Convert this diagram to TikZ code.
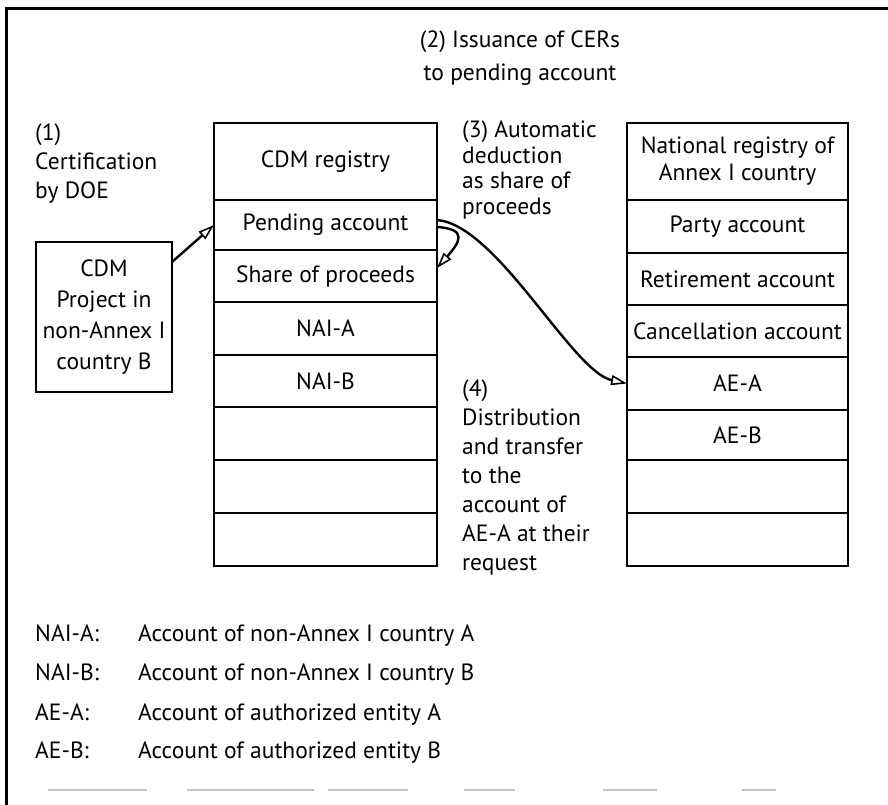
\documentclass[tikz,border=0pt]{standalone}
\usepackage{fontspec}
\setmainfont{PT Sans}
\usetikzlibrary{arrows.meta}
\begin{document}
\begin{tikzpicture}[x=1pt,y=-1pt,
  cell/.style={draw,line width=2.8pt,inner sep=0pt,outer sep=0pt,font=\fontsize{23.5}{28}\selectfont,align=center},
  note/.style={inner sep=0pt,anchor=north west,align=left,font=\fontsize{23.5}{29}\selectfont},
  conn/.style={line width=2.4pt,-{Triangle[open,length=16pt,width=10pt,line width=1.6pt]}},
  legend/.style={inner sep=0pt,anchor=base west,font=\fontsize{23.5}{28}\selectfont}]
\useasboundingbox (0,0) rectangle (888,805);
% frame
\draw[line width=3pt] (6,805) -- (6,9) -- (888,9);
\foreach \a/\b in {48/147,187/314,328/408,464/515,603/657,742/776}
  \draw[gray!45,line width=2pt] (\a,790) -- (\b,790);
% CDM registry column
\node[cell,minimum width=223,minimum height=77] (c0) at (325.5,161.5) {CDM registry};
\node[cell,minimum width=223,minimum height=50] (c1) at (325.5,225) {Pending account};
\node[cell,minimum width=223,minimum height=52] (c2) at (325.5,276) {Share of proceeds};
\node[cell,minimum width=223,minimum height=53] (c3) at (325.5,328.5) {NAI-A};
\node[cell,minimum width=223,minimum height=52] (c4) at (325.5,381) {NAI-B};
\node[cell,minimum width=223,minimum height=53] (c5) at (325.5,433.5) {};
\node[cell,minimum width=223,minimum height=53] (c6) at (325.5,486.5) {};
\node[cell,minimum width=223,minimum height=53] (c7) at (325.5,539.5) {};
% National registry column
\node[cell,minimum width=221,minimum height=77,font=\fontsize{23.5}{27}\selectfont] (n0) at (737.5,161.5) {National registry of\\Annex I country};
\node[cell,minimum width=221,minimum height=53] (n1) at (737.5,226.5) {Party account};
\node[cell,minimum width=221,minimum height=52] (n2) at (737.5,279) {Retirement account};
\node[cell,minimum width=221,minimum height=52] (n3) at (737.5,331) {Cancellation account};
\node[cell,minimum width=221,minimum height=53] (n4) at (737.5,383.5) {AE-A};
\node[cell,minimum width=221,minimum height=50] (n5) at (737.5,435) {AE-B};
\node[cell,minimum width=221,minimum height=53] (n6) at (737.5,486.5) {};
\node[cell,minimum width=221,minimum height=53] (n7) at (737.5,539.5) {};
% project box
\node[cell,line width=2.4pt,minimum width=136,minimum height=150,font=\fontsize{23.5}{31}\selectfont] (proj) at (104,317) {CDM\\Project in\\non-Annex I\\country B};
% notes
\node[note] (t1) at (35,124) {(1)\\Certification\\by DOE};
\node[inner sep=0pt,align=center,font=\fontsize{23.5}{33}\selectfont] (t2) at (520,58) {(2) Issuance of CERs\\to pending account};
\node[note,font=\fontsize{23.5}{25.5}\selectfont] (t3) at (462,121) {(3) Automatic\\deduction\\as share of\\proceeds};
\node[note] (t4) at (462,380) {(4)\\Distribution\\and transfer\\to the\\account of\\AE-A at their\\request};
% connectors
\coordinate (a1s) at (172,262);
\draw[conn] (a1s) -- (c1.west);
\draw[conn] ([yshift=-2pt]c1.east) .. controls +(32,2) and +(22,-25) .. ([yshift=8pt]c2.east);
\draw[conn] ([yshift=5pt]c1.east) .. controls +(60,5) and +(-55,-12) .. (n4.west);
% legend
\node[legend] (l1) at (35,641) {NAI-A:};
\node[legend] (l2) at (35,680) {NAI-B:};
\node[legend] (l3) at (35,720) {AE-A:};
\node[legend] (l4) at (35,758) {AE-B:};
\node[legend] (d1) at (138,641) {Account of non-Annex I country A};
\node[legend] (d2) at (138,680) {Account of non-Annex I country B};
\node[legend] (d3) at (138,720) {Account of authorized entity A};
\node[legend] (d4) at (138,758) {Account of authorized entity B};
\end{tikzpicture}
\end{document}
